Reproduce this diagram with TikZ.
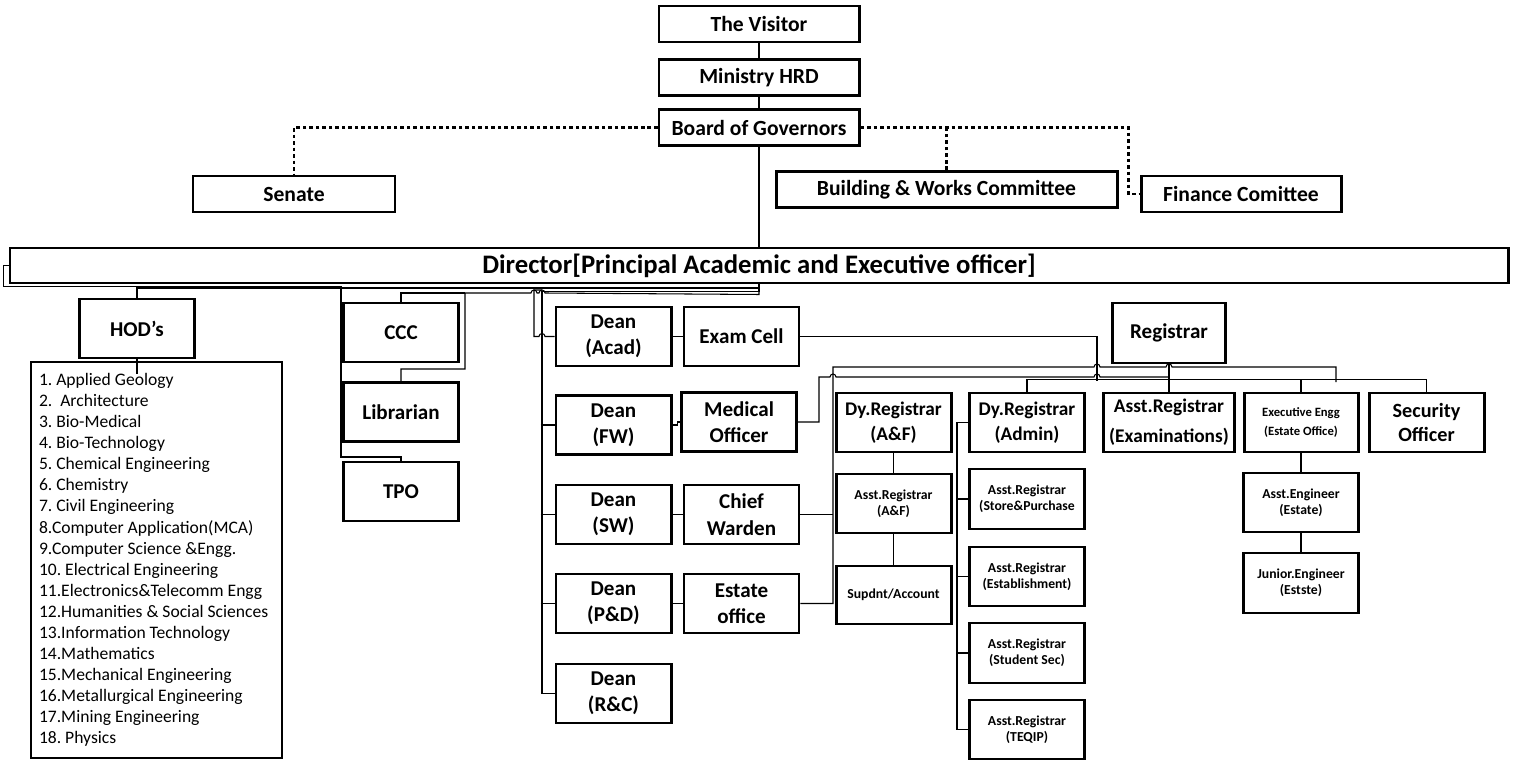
\documentclass[tikz,border=0pt]{standalone}
\usepackage{fontspec}
\setmainfont{Carlito}
\usetikzlibrary{positioning}

\begin{document}
\begin{tikzpicture}[
  box/.style={draw,line width=1.7pt,align=center,inner sep=1pt},
  head/.style={box,minimum width=4cm,minimum height=0.72cm,font=\fontsize{12.3}{15}\selectfont\bfseries},
  unit/.style={box,minimum width=2.3cm,minimum height=1.18cm,font=\fontsize{12}{15}\selectfont\bfseries},
  midbox/.style={box,minimum width=2.3cm,minimum height=1.18cm,font=\fontsize{11}{14}\selectfont\bfseries},
  smallbox/.style={box,minimum width=2.3cm,minimum height=1.18cm,font=\fontsize{7.8}{9.2}\selectfont\bfseries},
  link/.style={line width=0.6pt},
  dotline/.style={line width=1.4pt,dash pattern=on 2.2pt off 1.5pt}
]
\useasboundingbox (0,0) rectangle (30.3,15.2);

% governing bodies
\node[head] (visitor) at (15.18,14.72) {The Visitor};
\node[head] (mhrd) at (15.18,13.65) {Ministry HRD};
\node[head] (bog) at (15.18,12.65) {Board of Governors};
\node[head,minimum width=4.04cm] (senate) at (5.88,11.32) {Senate};
\node[head,minimum width=6.82cm] (bwc) at (18.93,11.41) {Building \& Works Committee};
\node[head] (fin) at (24.82,11.32) {Finance Comittee};
\node[box,minimum width=29.96cm,minimum height=0.7cm,font=\fontsize{15.2}{17}\selectfont\bfseries] (dir) at (15.18,9.89) {Director[Principal Academic and Executive officer]};

% departments, central units
\node[unit] (hod) at (2.74,8.63) {HOD’s};
\node[draw,line width=0.6pt,minimum width=5.02cm,minimum height=7.92cm,text width=4.7cm,inner xsep=0.16cm,align=flush left,font=\fontsize{10}{12}\selectfont\frenchspacing] (depts) at (3.13,4.0)
 {1. Applied Geology\\2.~ Architecture\\3. Bio-Medical\\4. Bio-Technology\\5. Chemical Engineering\\6. Chemistry\\7. Civil Engineering\\8.Computer Application(MCA)\\9.Computer Science \&Engg.\\10. Electrical Engineering\\11.Electronics\&Telecomm Engg\\12.Humanities \& Social Sciences\\13.Information Technology\\14.Mathematics\\15.Mechanical Engineering\\16.Metallurgical Engineering\\17.Mining Engineering\\18. Physics};
\node[unit] (ccc) at (8.02,8.55) {CCC};
\node[unit] (lib) at (8.02,6.96) {Librarian};
\node[unit] (tpo) at (8.02,5.37) {TPO};

% deans
\node[unit] (acad) at (12.27,8.47) {Dean\\(Acad)};
\node[unit] (fw) at (12.27,6.70) {Dean\\(FW)};
\node[unit] (sw) at (12.27,4.91) {Dean\\(SW)};
\node[unit] (pd) at (12.27,3.13) {Dean\\(P\&D)};
\node[unit] (rc) at (12.27,1.33) {Dean\\(R\&C)};
\node[unit,right=0.2cm of acad] (exam) {Exam Cell};
\node[unit] (med) at (14.78,6.76) {Medical\\Officer};
\node[unit,right=0.2cm of sw] (cw) {Chief\\Warden};
\node[unit,right=0.2cm of pd] (est) {Estate\\office};

% registrar side
\node[unit,minimum width=2.26cm,minimum height=1.2cm] (reg) at (23.38,8.54) {Registrar};
\node[midbox] (dyaf) at (17.87,6.75) {Dy.Registrar\\(A\&F)};
\node[midbox] (adm) at (20.54,6.75) {Dy.Registrar\\(Admin)};
\node[midbox,minimum width=2.62cm,font=\fontsize{11}{17}\selectfont\bfseries] (aex) at (23.38,6.75) {Asst.Registrar\\(Examinations)};
\node[box,minimum width=2.28cm,minimum height=1.18cm,font=\fontsize{7.2}{11}\selectfont\bfseries] (exe) at (26.02,6.75) {Executive Engg\\(Estate Office)};
\node[unit,font=\fontsize{11.5}{14}\selectfont\bfseries] (sec) at (28.53,6.75) {Security\\Officer};
\node[smallbox] (asaf) at (17.87,5.13) {Asst.Registrar\\(A\&F)};
\node[smallbox,minimum height=1.16cm] (sup) at (17.87,3.30) {Supdnt/Account};
\node[smallbox,minimum height=1.2cm] (store) at (20.54,5.22) {Asst.Registrar\\(Store\&Purchase};
\node[smallbox] (estb) at (20.54,3.67) {Asst.Registrar\\(Establishment)};
\node[smallbox,minimum height=1.2cm] (stud) at (20.54,2.14) {Asst.Registrar\\(Student Sec)};
\node[smallbox] (teq) at (20.54,0.61) {Asst.Registrar\\(TEQIP)};
\node[smallbox] (aeng) at (26.02,5.15) {Asst.Engineer\\(Estate)};
\node[smallbox,minimum height=1.2cm] (jeng) at (26.02,3.54) {Junior.Engineer\\(Estste)};

\coordinate (deanbus) at (10.84,9.40);
\coordinate (cccbus) at (9.3,9.34);
\coordinate (afbus) at (16.66,7.86);
\coordinate (regbus) at (21.94,7.58);
\coordinate (stub) at (26.72,7.56);

% top chain and committees
\draw[link] (visitor) -- (mhrd);
\draw[link] (mhrd) -- (bog);
\draw[link] (bog) -- (dir);
\draw[dotline] (bog.west) -| (senate.north);
\draw[dotline] (bog.east) -| ([xshift=-2.2mm]fin.west) -- (fin.west);
\draw[dotline] (bwc.north) -- (bwc.north |- bog.east);

% director to units
\draw[link] (dir.west) -- ++(-0.1,0) |- (6.82,9.47) -- (6.82,6.06) -| (tpo.north);
\draw[link] (dir.south) -- ++(0,-0.07) -| (hod.north);
\draw[link] (hod.south) -- ++(0,-0.3);
\draw[link] (dir.south) -- ++(0,-0.14) -| (deanbus |- rc.west) -- (rc.west);
\draw[link] (deanbus) -- (10.68,9.40) |- (10.78,8.47) arc[start angle=180,end angle=0,radius=0.06] -- (acad.west);
\foreach \d in {fw,sw,pd} \draw[link] ([xshift=-2.8mm]\d.west) -- (\d.west);
\draw[link] (dir.south) -- ++(0,-0.2) -- (10.90,9.34) arc[start angle=0,end angle=180,radius=0.06] -- (10.74,9.34) arc[start angle=0,end angle=180,radius=0.06] -- (cccbus) -- (9.3,7.82) -| (lib.north);
\draw[link] (ccc.north) |- (cccbus);

% deans to their offices
\draw[link] (acad) -- (exam);
\draw[link] (fw.east) -- ++(0.1,0) |- (med.west);
\draw[link] (sw) -- (cw);
\draw[link] (pd) -- (est);

% registrar links
\draw[link] (est.east) -| (afbus) -- (21.88,7.86) arc[start angle=180,end angle=0,radius=0.06] -- (23.32,7.86) arc[start angle=180,end angle=0,radius=0.06] -- (stub |- afbus) -- (stub);
\draw[link] (cw.east) -- (cw.east -| afbus);
\draw[link] (med.east) -| (16.38,7.66) -- (16.60,7.66) arc[start angle=180,end angle=0,radius=0.06] -- (21.88,7.66) arc[start angle=180,end angle=0,radius=0.06] -- (23.38,7.66);
\draw[link] (exam.east) -| (regbus);
\draw[link] (reg.south) -- (aex.north);
\draw[link] (adm.north) -- ++(0,0.24) -| (sec.north);
\draw[link] (exe.north) -- ++(0,0.24);
\draw[link] (adm.west) -- ++(-0.22,0) |- (teq.west);
\foreach \a in {store,estb,stud} \draw[link] ([xshift=-2.2mm]\a.west) -- (\a.west);
\draw[link] (dyaf) -- (asaf) -- (sup);
\draw[link] (exe) -- (aeng) -- (jeng);
\end{tikzpicture}
\end{document}
